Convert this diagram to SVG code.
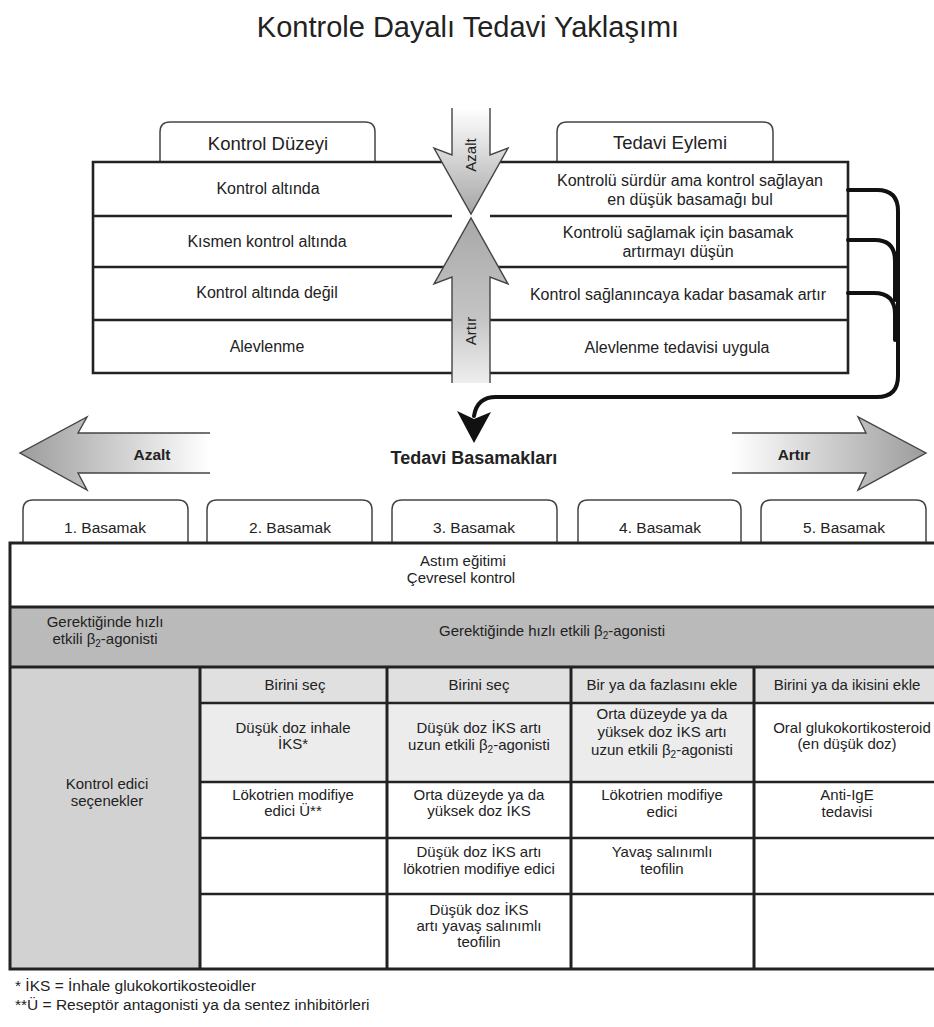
<svg xmlns="http://www.w3.org/2000/svg" width="934" height="1027" viewBox="0 0 934 1027">
<style>
text{font-family:"Liberation Sans",Arial,sans-serif;fill:#222}
.title{font-size:29px}
.row{font-size:16px}
.hd{font-size:18.5px}
.cell{font-size:15px}
.tabt{font-size:15.5px}
.lbl{font-size:15.5px;font-weight:bold}
.vl{font-size:15px}
.sub{font-size:10px}
.foot{font-size:15.5px}
.ln{stroke:#222;stroke-width:2.6;fill:none}
.tab{fill:#fff;stroke:#444;stroke-width:1.5}
.conn{stroke:#111;stroke-width:4;fill:none;stroke-linecap:round}
.arr{stroke:#444;stroke-width:1.4}
</style>
<defs>
<linearGradient id="gDown" x1="0" y1="0" x2="0" y2="1"><stop offset="0" stop-color="#fff"/><stop offset="0.4" stop-color="#dcdcdc"/><stop offset="1" stop-color="#a5a5a5"/></linearGradient>
<linearGradient id="gUp" x1="0" y1="0" x2="0" y2="1"><stop offset="0" stop-color="#a8a8a8"/><stop offset="0.6" stop-color="#c4c4c4"/><stop offset="1" stop-color="#eeeeee"/></linearGradient>
<linearGradient id="gLeft" x1="0" y1="0" x2="1" y2="0"><stop offset="0" stop-color="#9c9c9c"/><stop offset="1" stop-color="#fff"/></linearGradient>
<linearGradient id="gRight" x1="0" y1="0" x2="1" y2="0"><stop offset="0" stop-color="#fff"/><stop offset="1" stop-color="#9c9c9c"/></linearGradient>
</defs>
<rect width="934" height="1027" fill="#fff"/>

<g id="title"><text class="title" x="468" y="37" text-anchor="middle">Kontrole Dayalı Tedavi Yaklaşımı</text></g>

<g id="control-level">
<path class="tab" d="M160,162 V132 Q160,122 170,122 H365 Q375,122 375,132 V162"/>
<text class="hd" x="268" y="150" text-anchor="middle">Kontrol Düzeyi</text>
<path class="ln" d="M452,162 H93 V373 H452 M93,216 H452 M93,267 H452 M93,320 H452"/>
<text class="row" x="268" y="194" text-anchor="middle">Kontrol altında</text>
<text class="row" x="267" y="247" text-anchor="middle">Kısmen kontrol altında</text>
<text class="row" x="267" y="298" text-anchor="middle">Kontrol altında değil</text>
<text class="row" x="267" y="352" text-anchor="middle">Alevlenme</text>
</g>

<g id="treatment-action">
<path class="tab" d="M557,162 V132 Q557,122 567,122 H763 Q773,122 773,132 V162"/>
<text class="hd" x="670" y="149" text-anchor="middle">Tedavi Eylemi</text>
<path class="ln" d="M490,162 H848 V373 H490 M490,216 H848 M490,267 H848 M490,320 H848"/>
<text class="row" x="690" y="186" text-anchor="middle">Kontrolü sürdür ama kontrol sağlayan</text>
<text class="row" x="690" y="205" text-anchor="middle">en düşük basamağı bul</text>
<text class="row" x="678" y="238" text-anchor="middle">Kontrolü sağlamak için basamak</text>
<text class="row" x="678" y="257" text-anchor="middle">artırmayı düşün</text>
<text class="row" x="678" y="300" text-anchor="middle">Kontrol sağlanıncaya kadar basamak artır</text>
<text class="row" x="677" y="353" text-anchor="middle">Alevlenme tedavisi uygula</text>
</g>

<g id="arrow-decrease-v">
<path class="arr" fill="url(#gDown)" d="M452,108 V155 L434,148 L471,214 L508,148 L490,155 V108"/>
<text class="vl" transform="translate(476,155) rotate(-90)" text-anchor="middle">Azalt</text>
</g>
<g id="arrow-increase-v">
<path class="arr" fill="url(#gUp)" d="M452,383 V277 L434,284 L471,218 L508,284 L490,277 V383"/>
<text class="vl" transform="translate(476,331) rotate(-90)" text-anchor="middle">Artır</text>
</g>

<g id="connectors">
<path class="conn" d="M848,190 H877 Q898,190 898,211 V376 Q898,397 877,397 H496 Q477,397 474,416"/>
<path class="conn" d="M848,240 H875 Q895,240 895,261 V300"/>
<path class="conn" d="M848,293 H874 Q895,293 895,314 V340"/>
<polygon points="474,443 457,411 474,419 491,412" fill="#111"/>
</g>

<g id="steps-header">
<path class="arr" fill="url(#gLeft)" d="M210,433 H78 L87,417 L20,453 L87,490 L78,473 H210"/>
<text class="lbl" x="152" y="460" text-anchor="middle">Azalt</text>
<text class="lbl" x="474" y="464" text-anchor="middle" style="font-size:18px">Tedavi Basamakları</text>
<path class="arr" fill="url(#gRight)" d="M732,433 H866 L858,417 L926,453 L858,490 L866,473 H732"/>
<text class="lbl" x="794" y="460" text-anchor="middle">Artır</text>
</g>

<g id="step-tabs">
<path class="tab" d="M23,543 V510 Q23,500 33,500 H178 Q188,500 188,510 V543"/>
<text class="tabt" x="105" y="533" text-anchor="middle">1. Basamak</text>
<path class="tab" d="M207,543 V510 Q207,500 217,500 H362 Q372,500 372,510 V543"/>
<text class="tabt" x="290" y="533" text-anchor="middle">2. Basamak</text>
<path class="tab" d="M392,543 V510 Q392,500 402,500 H547 Q557,500 557,510 V543"/>
<text class="tabt" x="474" y="533" text-anchor="middle">3. Basamak</text>
<path class="tab" d="M578,543 V510 Q578,500 588,500 H731 Q741,500 741,510 V543"/>
<text class="tabt" x="660" y="533" text-anchor="middle">4. Basamak</text>
<path class="tab" d="M761,543 V510 Q761,500 771,500 H916 Q926,500 926,510 V543"/>
<text class="tabt" x="844" y="533" text-anchor="middle">5. Basamak</text>
</g>

<g id="table">
<rect x="10" y="607" width="940" height="60" fill="#bababa"/>
<rect x="10" y="667" width="190" height="302" fill="#d2d2d2"/>
<rect x="200" y="667" width="750" height="36" fill="#e0e0e0"/>
<rect x="200" y="703" width="371" height="79" fill="#ececec"/>
<rect x="571" y="703" width="183" height="79" fill="#ececec"/>
<path class="ln" style="stroke-width:3" d="M950,543 H10 V969 H950 M10,607 H950 M10,667 H950 M200,667 V969 M387,667 V969 M571,667 V969 M754,667 V969"/>
<path class="ln" d="M200,703 H950 M200,782 H950 M200,838 H950 M200,894 H950"/>
</g>

<g id="row-education">
<text class="cell" x="463" y="566" text-anchor="middle">Astım eğitimi</text>
<text class="cell" x="461" y="583" text-anchor="middle">Çevresel kontrol</text>
</g>
<g id="row-reliever">
<text class="cell" x="105" y="627" text-anchor="middle">Gerektiğinde hızlı</text>
<text class="cell" x="105" y="644" text-anchor="middle">etkili β<tspan class="sub" dy="3">2</tspan><tspan dy="-3">-agonisti</tspan></text>
<text class="cell" x="552" y="636" text-anchor="middle">Gerektiğinde hızlı etkili β<tspan class="sub" dy="3">2</tspan><tspan dy="-3">-agonisti</tspan></text>
</g>
<g id="row-controller">
<text class="cell" x="107" y="789" text-anchor="middle">Kontrol edici</text>
<text class="cell" x="107" y="806" text-anchor="middle">seçenekler</text>
<text class="cell" x="295" y="690" text-anchor="middle">Birini seç</text>
<text class="cell" x="479" y="690" text-anchor="middle">Birini seç</text>
<text class="cell" x="662" y="690" text-anchor="middle">Bir ya da fazlasını ekle</text>
<text class="cell" x="847" y="690" text-anchor="middle">Birini ya da ikisini ekle</text>

<text class="cell" x="293" y="733" text-anchor="middle">Düşük doz inhale</text>
<text class="cell" x="293" y="749" text-anchor="middle">İKS*</text>
<text class="cell" x="479" y="733" text-anchor="middle">Düşük doz İKS artı</text>
<text class="cell" x="479" y="750" text-anchor="middle">uzun etkili β<tspan class="sub" dy="3">2</tspan><tspan dy="-3">-agonisti</tspan></text>
<text class="cell" x="662" y="719" text-anchor="middle">Orta düzeyde ya da</text>
<text class="cell" x="662" y="737" text-anchor="middle">yüksek doz İKS artı</text>
<text class="cell" x="662" y="755" text-anchor="middle">uzun etkili β<tspan class="sub" dy="3">2</tspan><tspan dy="-3">-agonisti</tspan></text>
<text class="cell" x="852" y="733" text-anchor="middle">Oral glukokortikosteroid</text>
<text class="cell" x="847" y="749" text-anchor="middle">(en düşük doz)</text>

<text class="cell" x="293" y="800" text-anchor="middle">Lökotrien modifiye</text>
<text class="cell" x="293" y="816" text-anchor="middle">edici Ü**</text>
<text class="cell" x="479" y="800" text-anchor="middle">Orta düzeyde ya da</text>
<text class="cell" x="479" y="816" text-anchor="middle">yüksek doz İKS</text>
<text class="cell" x="662" y="800" text-anchor="middle">Lökotrien modifiye</text>
<text class="cell" x="662" y="817" text-anchor="middle">edici</text>
<text class="cell" x="847" y="800" text-anchor="middle">Anti-IgE</text>
<text class="cell" x="847" y="817" text-anchor="middle">tedavisi</text>

<text class="cell" x="479" y="857" text-anchor="middle">Düşük doz İKS artı</text>
<text class="cell" x="479" y="874" text-anchor="middle">lökotrien modifiye edici</text>
<text class="cell" x="662" y="857" text-anchor="middle">Yavaş salınımlı</text>
<text class="cell" x="662" y="874" text-anchor="middle">teofilin</text>

<text class="cell" x="479" y="915" text-anchor="middle">Düşük doz İKS</text>
<text class="cell" x="479" y="931" text-anchor="middle">artı yavaş salınımlı</text>
<text class="cell" x="479" y="947" text-anchor="middle">teofilin</text>
</g>

<g id="footnotes">
<text class="foot" x="15" y="991">* İKS = İnhale glukokortikosteoidler</text>
<text class="foot" x="15" y="1010">**Ü = Reseptör antagonisti ya da sentez inhibitörleri</text>
</g>
</svg>
